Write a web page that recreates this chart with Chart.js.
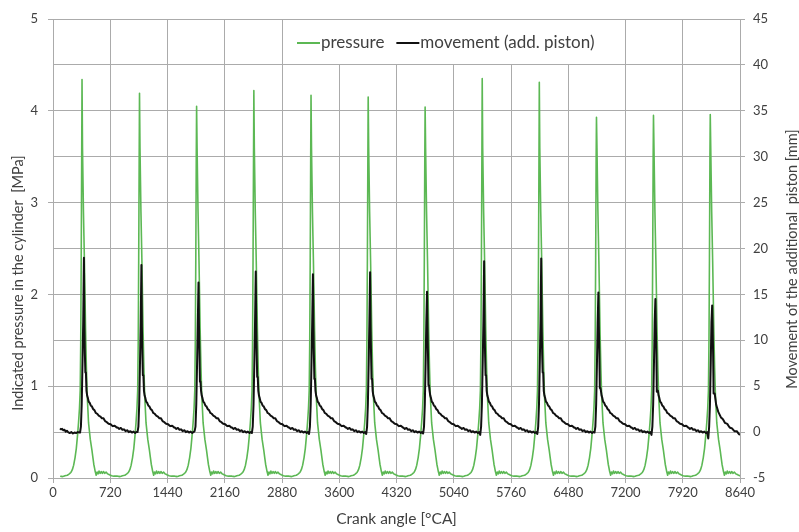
<!DOCTYPE html>
<html>
<head>
<meta charset="utf-8">
<script src="https://cdn.jsdelivr.net/npm/chart.js@4.4.1/dist/chart.umd.min.js"></script>
<style>
  html, body { margin: 0; padding: 0; background: #fff; }
</style>
</head>
<body>
<canvas id="chart" width="799" height="532"></canvas>
<script>
// --- Data ---
// crank angle [°CA] of each pressure peak, one per cycle
const cycleTDC = [365, 1088, 1806, 2526, 3245, 3964, 4680, 5398, 6116, 6835, 7552, 8266];
// peak pressure per cycle [MPa]
const pressurePeak = [4.34, 4.19, 4.05, 4.22, 4.17, 4.15, 4.04, 4.35, 4.31, 3.93, 3.95, 3.96];
// piston movement per cycle [mm]: main peak, shoulder after it, trough just before the rise
const movementPeak = [19.0, 18.2, 16.3, 17.5, 17.2, 17.4, 15.3, 18.6, 18.9, 15.2, 14.5, 13.8];
const movementKick = [6.5, 6.2, 5.5, 6.0, 5.8, 5.8, 5.1, 6.2, 6.5, 4.8, 4.4, 4.2];
const movementFloor = [-0.05, 0.0, 0.1, -0.1, -0.2, -0.2, -0.15, -0.3, -0.2, -0.05, -0.3, -0.7];

// pressure trace around one peak (angle relative to the peak)
const pressureRel = [-275, -245, -215, -185, -160, -140, -122, -105, -88, -72, -58, -44, -32, -23, -16, -10, -4, 0,
  6, 18, 30, 45, 55, 65, 82, 104, 125, 148, 166, 178, 190, 202, 214, 228, 242, 256, 270, 286, 302, 322, 345, 372, 400, 430];
const pressureShape = [0.02, 0.015, 0.025, 0.03, 0.045, 0.06, 0.09, 0.14, 0.22, 0.32, 0.45, 0.6, 0.76, 0.95, 1.5, 2.4, 3.5, 'peak',
  3.6, 2.9, 2.37, 1.6, 1.2, 0.9, 0.6, 0.42, 0.3, 0.15, 0.07, 0.03, 0.065, 0.045, 0.075, 0.05, 0.07, 0.05, 0.07, 0.05, 0.065, 0.045, 0.035, 0.025, 0.02, 0.02];

// movement trace around one peak (angle relative to the pressure peak)
const moveRel = [-275, -255, -235, -215, -195, -175, -155, -135, -115, -95, -75, -55, -40, -25, -14, -4, 6, 15, 24, 30, 36, 42, 49,
  56, 64, 74, 84, 96, 110, 124, 140, 156, 172, 190, 210, 230, 250, 270, 290, 310, 335, 360, 385, 410, 435];
const moveShape = [0.5, 0.35, 0.45, 0.25, 0.3, 0.1, 0.2, 0.0, 0.1, -0.05, 0.05, -0.1, 0.0, 'floor', 0.6, 3.0, 7.5, 12.0, 'peak', 11.5, 8.5, 'kick', 'kick',
  4.5, 4.0, 3.7, 3.3, 3.2, 2.9, 2.8, 2.5, 2.4, 2.1, 2.0, 1.8, 1.7, 1.5, 1.5, 1.2, 1.1, 0.9, 0.85, 0.65, 0.7, 0.5];

// start of the record before the first cycle, and end after the last one
const moveLeadAngle = [88, 100, 115, 130, 145, 160, 175, 190, 210, 230, 250, 270, 290, 310, 330];
const moveLead = [0.4, 0.3, 0.35, 0.2, 0.25, 0.05, 0.15, 0.0, -0.1, 0.0, -0.15, -0.05, -0.1, 0.0, -0.05];
const moveTailAngle = [8322, 8340, 8367, 8400, 8425, 8451, 8480, 8510, 8540, 8570, 8600, 8625, 8640];
const moveTail = [4.2, 3.0, 2.2, 1.6, 1.4, 1.0, 0.9, 0.5, 0.4, 0.1, 0.1, -0.2, -0.3];

const xTicksStep = 720;

// --- build the point lists ---
const pressureData = [];
cycleTDC.forEach((tdc, k) => {
  pressureRel.forEach((rel, i) => {
    const v = pressureShape[i] === 'peak' ? pressurePeak[k] : pressureShape[i];
    pressureData.push({ x: tdc + rel, y: v });
  });
});

const movementData = [];
moveLeadAngle.forEach((a, i) => movementData.push({ x: a, y: moveLead[i] }));
cycleTDC.forEach((tdc, k) => {
  moveRel.forEach((rel, i) => {
    if (k === 0 && rel < -25) return;
    if (k === cycleTDC.length - 1 && rel > 49) return;
    let v = moveShape[i];
    if (v === 'peak') v = movementPeak[k];
    else if (v === 'kick') v = movementKick[k];
    else if (v === 'floor') v = movementFloor[k];
    movementData.push({ x: tdc + rel, y: v });
  });
});
moveTailAngle.forEach((a, i) => movementData.push({ x: a, y: moveTail[i] }));

const FONT = 'Lato, "Open Sans", sans-serif';
const TEXT = '#404040';
const GRID = '#ababab';

// y-axis titles and the boxed legend drawn on top of the plot
const decorPlugin = {
  id: 'decor',
  afterDraw(chart) {
    const ctx = chart.ctx;
    const area = chart.chartArea;
    ctx.save();
    ctx.fillStyle = TEXT;
    ctx.font = '14.5px ' + FONT;
    ctx.textAlign = 'center';
    ctx.textBaseline = 'middle';
    ctx.save();
    ctx.translate(18, 283);
    ctx.rotate(-Math.PI / 2);
    ctx.fillText('Indicated pressure in the cylinder  [MPa]', 0, 0);
    ctx.restore();
    ctx.save();
    ctx.translate(792, 259);
    ctx.rotate(-Math.PI / 2);
    ctx.fillText('Movement of the additional  piston [mm]', 0, 0);
    ctx.restore();

    // legend
    ctx.font = '17px ' + FONT;
    ctx.textAlign = 'left';
    const order = [1, 0];
    const ly = area.top + 24;
    ctx.fillStyle = '#fff';
    ctx.fillRect(area.left + 237, area.top + 1, 322, 44);
    let x = area.left + 244;
    order.forEach(idx => {
      const ds = chart.data.datasets[idx];
      ctx.strokeStyle = ds.borderColor;
      ctx.lineWidth = 2;
      ctx.beginPath();
      ctx.moveTo(x, ly);
      ctx.lineTo(x + 23, ly);
      ctx.stroke();
      x += 24;
      ctx.fillStyle = TEXT;
      ctx.fillText(ds.label, x, ly);
      x += ctx.measureText(ds.label).width + 12;
    });
    ctx.restore();
  }
};

new Chart(document.getElementById('chart'), {
  type: 'line',
  data: {
    datasets: [
      {
        label: 'movement (add. piston)',
        data: movementData,
        yAxisID: 'y1',
        borderColor: '#111111',
        borderWidth: 2,
        borderJoinStyle: 'round',
        pointRadius: 0,
        tension: 0.0001
      },
      {
        label: 'pressure',
        data: pressureData,
        yAxisID: 'y',
        borderColor: 'rgb(92,184,84)',
        borderWidth: 1.6,
        borderJoinStyle: 'round',
        pointRadius: 0,
        tension: 0.0001
      }
    ]
  },
  options: {
    responsive: false,
    animation: false,
    devicePixelRatio: 1,
    layout: { padding: { top: 19, left: 0, right: 0, bottom: 0 } },
    plugins: {
      legend: { display: false },
      tooltip: { enabled: false }
    },
    scales: {
      x: {
        type: 'linear',
        min: 0,
        max: 8640,
        ticks: {
          stepSize: xTicksStep, color: TEXT, font: { family: FONT, size: 13 }, padding: 2, maxRotation: 0,
          callback: v => String(v)
        },
        grid: { color: GRID, tickLength: 5 },
        border: { color: GRID },
        title: { display: true, text: 'Crank angle [°CA]', color: TEXT, font: { family: FONT, size: 15.5 }, padding: { top: 4 } },
        afterFit(scale) { scale.height = 54; }
      },
      y: {
        position: 'left',
        min: 0,
        max: 5,
        ticks: { stepSize: 1, color: TEXT, font: { family: FONT, size: 13 }, padding: 10 },
        grid: { drawOnChartArea: false, color: GRID, tickLength: 5 },
        border: { color: GRID },
        afterFit(scale) { scale.width = 53; }
      },
      y1: {
        position: 'right',
        min: -5,
        max: 45,
        ticks: { stepSize: 5, color: TEXT, font: { family: FONT, size: 13 }, padding: 8 },
        grid: { color: GRID, tickLength: 5 },
        border: { color: GRID },
        afterFit(scale) { scale.width = 59; }
      }
    }
  },
  plugins: [decorPlugin]
});
</script>
</body>
</html>
